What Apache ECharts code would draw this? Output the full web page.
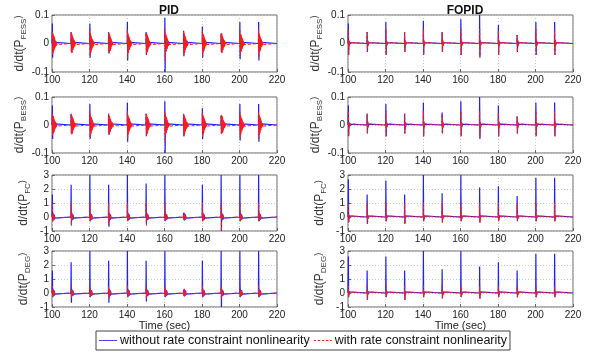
<!DOCTYPE html>
<html>
<head>
<meta charset="utf-8">
<script src="https://cdn.jsdelivr.net/npm/echarts@6/dist/echarts.min.js"></script>
<style>
  html, body { margin: 0; padding: 0; background: #fff; }
  #chart { width: 590px; height: 354px; }
</style>
</head>
<body>
<div id="chart"></div>
<script>
// spike instants (sec)
const spikeTimes = [100, 110, 120, 130, 140, 150, 160, 170, 180, 190, 200, 210];

// PID - FESS
const pidFessBlueUp = [0.07, 0.04, 0.07, 0.04, 0.075, 0.04, 0.09, 0.045, 0.06, 0.035, 0.075, 0.075];
const pidFessBlueDown = [-0.05, -0.03, -0.05, -0.035, -0.06, -0.04, -0.1, -0.045, -0.05, -0.03, -0.055, -0.06];
const pidFessRedUp = [0.04, 0.04, 0.05, 0.04, 0.05, 0.04, 0.05, 0.04, 0.045, 0.035, 0.045, 0.05];
const pidFessRedDown = [-0.04, -0.03, -0.045, -0.03, -0.05, -0.035, -0.06, -0.04, -0.045, -0.03, -0.045, -0.05];
// PID - BESS
const pidBessBlueUp = [0.07, 0.04, 0.075, 0.04, 0.08, 0.04, 0.085, 0.04, 0.06, 0.035, 0.075, 0.075];
const pidBessBlueDown = [-0.05, -0.03, -0.05, -0.035, -0.06, -0.04, -0.1, -0.04, -0.05, -0.03, -0.055, -0.06];
const pidBessRedUp = [0.04, 0.04, 0.05, 0.04, 0.05, 0.04, 0.05, 0.04, 0.045, 0.035, 0.045, 0.05];
const pidBessRedDown = [-0.04, -0.03, -0.045, -0.03, -0.05, -0.035, -0.06, -0.04, -0.045, -0.03, -0.045, -0.05];
// PID - FC
const pidFcBlueUp = [1.6, 2.3, 3, 2.3, 3, 2.4, 3, 0.3, 2.3, 3, 3, 3];
const pidFcBlueDown = [-0.3, -0.6, -0.3, -0.7, -0.3, -0.5, -0.3, -0.2, -0.3, -1, -0.3, -0.3];
const pidFcRedUp = [1, 1, 1, 1, 1, 1, 1, 0.2, 1, 1, 1, 1];
const pidFcRedDown = [-0.3, -0.6, -0.3, -0.6, -0.3, -0.6, -0.3, -0.2, -0.3, -1, -0.3, -0.3];
// PID - DEG
const pidDegBlueUp = [1.6, 2.2, 3, 2.3, 3, 2.3, 3, 0.2, 2.3, 3, 3, 3];
const pidDegBlueDown = [-0.3, -0.7, -0.3, -0.7, -0.3, -0.6, -0.3, -0.2, -0.3, -1, -0.3, -0.3];
const pidDegRedUp = [0.5, 0.5, 0.5, 0.5, 0.5, 0.5, 0.5, 0.2, 0.5, 0.5, 0.5, 0.5];
const pidDegRedDown = [-0.3, -0.4, -0.3, -0.4, -0.3, -0.4, -0.3, -0.2, -0.3, -0.4, -0.3, -0.3];

// FOPID - FESS
const fopidFessBlueUp = [0.07, 0.04, 0.075, 0.04, 0.08, 0.04, 0.085, 0.1, 0.065, 0.03, 0.075, 0.075];
const fopidFessBlueDown = [-0.04, -0.03, -0.04, -0.03, -0.04, -0.03, -0.04, -0.05, -0.04, -0.03, -0.04, -0.04];
const fopidFessRedUp = [0.05, 0.04, 0.05, 0.04, 0.05, 0.04, 0.05, 0.05, 0.045, 0.03, 0.05, 0.05];
const fopidFessRedDown = [-0.04, -0.03, -0.04, -0.03, -0.04, -0.03, -0.04, -0.045, -0.04, -0.03, -0.04, -0.04];
// FOPID - BESS
const fopidBessBlueUp = [0.07, 0.04, 0.075, 0.04, 0.08, 0.045, 0.085, 0.1, 0.07, 0.03, 0.08, 0.08];
const fopidBessBlueDown = [-0.04, -0.03, -0.04, -0.03, -0.04, -0.03, -0.04, -0.05, -0.04, -0.03, -0.04, -0.04];
const fopidBessRedUp = [0.05, 0.04, 0.05, 0.04, 0.05, 0.04, 0.05, 0.05, 0.045, 0.03, 0.05, 0.05];
const fopidBessRedDown = [-0.04, -0.03, -0.04, -0.03, -0.04, -0.03, -0.04, -0.045, -0.04, -0.03, -0.04, -0.04];
// FOPID - FC
const fopidFcBlueUp = [2.7, 1.6, 2.6, 1.6, 3, 1.7, 3, 2.1, 2.2, 1.5, 2.8, 2.8];
const fopidFcBlueDown = [-0.4, -0.5, -0.3, -0.5, -0.3, -0.4, -0.3, -0.4, -0.3, -0.3, -0.3, -0.3];
const fopidFcRedUp = [1, 1, 1, 1, 1, 1, 1, 1, 1, 1, 1, 1];
const fopidFcRedDown = [-0.4, -0.5, -0.3, -0.5, -0.3, -0.4, -0.3, -0.4, -0.3, -0.3, -0.3, -0.3];
// FOPID - DEG
const fopidDegBlueUp = [2.6, 1.6, 2.6, 1.6, 3, 1.7, 3, 1.9, 2.2, 1.6, 2.8, 2.8];
const fopidDegBlueDown = [-0.3, -0.5, -0.3, -0.5, -0.3, -0.4, -0.3, -0.4, -0.3, -0.3, -0.3, -0.3];
const fopidDegRedUp = [0.5, 0.5, 0.5, 0.5, 0.5, 0.5, 0.5, 0.5, 0.5, 0.5, 0.5, 0.5];
const fopidDegRedDown = [-0.3, -0.5, -0.3, -0.5, -0.3, -0.4, -0.3, -0.4, -0.3, -0.3, -0.3, -0.3];

// ringing after each spike, one value every 0.1 s
const pidFessRedTail = [0.035, -0.033, 0.032, -0.03, 0.028, -0.026, 0.024, -0.022, 0.02, -0.018, 0.016, -0.014,
  0.012, -0.011, 0.01, -0.009, 0.008, -0.007, 0.006, -0.005, 0.004, -0.004, 0.003, -0.003, 0.002, -0.002];
const pidFessBlueTail = [0.02, -0.02, 0.018, -0.017, 0.015, -0.014, 0.012, -0.011, 0.01, -0.008, 0.006, -0.005,
  0.004, -0.003, 0.002, -0.002];
const pidFcRedTail = [0.25, -0.22, 0.2, -0.18, 0.15, -0.13, 0.11, -0.1, 0.08, -0.07, 0.05, -0.04, 0.03, -0.02];
const pidFcBlueTail = [0.3, -0.25, 0.22, -0.2, 0.18, -0.15, 0.2, -0.2, 0.1, -0.08, 0.05, -0.04, 0.02];
const fopidFessRedTail = [0.012, -0.01, 0.008, -0.006, 0.004, -0.003, 0.002, -0.001];
const fopidFessBlueTail = [0.01, -0.008, 0.006, -0.005, 0.003, -0.002];
const fopidFcRedTail = [0.15, -0.15, 0.1, -0.1, 0.06, -0.05, 0.03, -0.02];
const fopidFcBlueTail = [0.12, -0.1, 0.08, -0.06, 0.04, -0.03];

function trace(up, down, tail) {
  const pts = [[100, 0]];
  spikeTimes.forEach((t, i) => {
    pts.push([t + 0.1, 0], [t + 0.2, up[i]], [t + 0.35, down[i]]);
    tail.forEach((v, k) => pts.push([t + 0.5 + k * 0.1, v]));
    pts.push([t + 0.5 + tail.length * 0.1, 0]);
  });
  pts.push([220, 0]);
  return pts;
}

const panels = [
  { col: 0, row: 0, sub: 'FESS', small: true, blue: trace(pidFessBlueUp, pidFessBlueDown, pidFessBlueTail), red: trace(pidFessRedUp, pidFessRedDown, pidFessRedTail) },
  { col: 0, row: 1, sub: 'BESS', small: true, blue: trace(pidBessBlueUp, pidBessBlueDown, pidFessBlueTail), red: trace(pidBessRedUp, pidBessRedDown, pidFessRedTail) },
  { col: 0, row: 2, sub: 'FC', small: false, blue: trace(pidFcBlueUp, pidFcBlueDown, pidFcBlueTail), red: trace(pidFcRedUp, pidFcRedDown, pidFcRedTail) },
  { col: 0, row: 3, sub: 'DEG', small: false, blue: trace(pidDegBlueUp, pidDegBlueDown, pidFcBlueTail), red: trace(pidDegRedUp, pidDegRedDown, pidFcRedTail) },
  { col: 1, row: 0, sub: 'FESS', small: true, blue: trace(fopidFessBlueUp, fopidFessBlueDown, fopidFessBlueTail), red: trace(fopidFessRedUp, fopidFessRedDown, fopidFessRedTail) },
  { col: 1, row: 1, sub: 'BESS', small: true, blue: trace(fopidBessBlueUp, fopidBessBlueDown, fopidFessBlueTail), red: trace(fopidBessRedUp, fopidBessRedDown, fopidFessRedTail) },
  { col: 1, row: 2, sub: 'FC', small: false, blue: trace(fopidFcBlueUp, fopidFcBlueDown, fopidFcBlueTail), red: trace(fopidFcRedUp, fopidFcRedDown, fopidFcRedTail) },
  { col: 1, row: 3, sub: 'DEG', small: false, blue: trace(fopidDegBlueUp, fopidDegBlueDown, fopidFcBlueTail), red: trace(fopidDegRedUp, fopidDegRedDown, fopidFcRedTail) }
];

const colLeft = [52, 348];
const rowTop = [15, 97, 175, 251];
const rowHeight = [57, 56, 56, 56];
const font = 'Liberation Sans, Arial, sans-serif';
const BLUE_NAME = 'without rate constraint nonlinearity';
const RED_NAME = 'with rate constraint nonlinearity';

const chart = echarts.init(document.getElementById('chart'));
const grid = [], xAxis = [], yAxis = [], series = [];

panels.forEach((p, i) => {
  grid.push({
    left: colLeft[p.col], top: rowTop[p.row], width: 225, height: rowHeight[p.row],
    show: true, borderColor: '#666', borderWidth: 1, backgroundColor: '#fff'
  });
  xAxis.push({
    type: 'value', gridIndex: i, min: 100, max: 220, interval: 20,
    axisLine: { show: false, onZero: false },
    axisTick: { show: true, inside: true, length: 3, lineStyle: { color: '#666' } },
    axisLabel: { fontSize: 10, color: '#222', margin: 3, fontFamily: font },
    splitLine: { show: true, lineStyle: { color: '#c8c8c8', type: [1, 2] } },
    name: p.row === 3 ? 'Time (sec)' : '',
    nameLocation: 'middle', nameGap: 10,
    nameTextStyle: { fontSize: 11, color: '#222', fontFamily: font }
  });
  yAxis.push({
    type: 'value', gridIndex: i,
    min: p.small ? -0.1 : -1, max: p.small ? 0.1 : 3, interval: p.small ? 0.1 : 1,
    axisLine: { show: false, onZero: false },
    axisTick: { show: true, inside: true, length: 3, lineStyle: { color: '#666' } },
    axisLabel: { fontSize: 10, color: '#222', margin: 3, fontFamily: font },
    splitLine: { show: true, lineStyle: { color: '#c8c8c8', type: [1, 2] } },
    name: '{m|d/dt(P}{s|' + p.sub + '}{r|)}',
    nameLocation: 'middle', nameGap: 20, nameRotate: 90,
    nameTextStyle: {
      fontFamily: font, color: '#333',
      rich: {
        m: { fontSize: 12, lineHeight: 14, verticalAlign: 'top', fontFamily: font, color: '#333' },
        s: { fontSize: 8, lineHeight: 10, padding: [6, 0, 0, 0], verticalAlign: 'bottom', fontFamily: font, color: '#333' },
        r: { fontSize: 9, lineHeight: 10, verticalAlign: 'top', fontFamily: font, color: '#333' }
      }
    }
  });
  series.push({
    name: BLUE_NAME, type: 'line',
    xAxisIndex: i, yAxisIndex: i, data: p.blue, symbol: 'none', animation: false,
    lineStyle: { color: '#1f1fff', width: 1.2 }, itemStyle: { color: '#1f1fff' }
  });
  series.push({
    name: RED_NAME, type: 'line',
    xAxisIndex: i, yAxisIndex: i, data: p.red, symbol: 'none', animation: false,
    lineStyle: { color: '#ff1a1a', width: 1, type: [3, 2] }, itemStyle: { color: '#ff1a1a' }
  });
});

chart.setOption({
  animation: false,
  title: [
    { text: 'PID', left: 164, top: 0, textAlign: 'center', textStyle: { fontSize: 12, fontWeight: 'bold', color: '#111', fontFamily: font } },
    { text: 'FOPID', left: 460, top: 0, textAlign: 'center', textStyle: { fontSize: 12, fontWeight: 'bold', color: '#111', fontFamily: font } }
  ],
  legend: {
    left: 96, top: 331, orient: 'horizontal',
    data: [
      { name: BLUE_NAME, icon: 'path://M0,0H22V1H0Z' },
      { name: RED_NAME, icon: 'path://M0,0H3V1H0Z M5,0H8V1H5Z M10,0H13V1H10Z M15,0H18V1H15Z M20,0H22V1H20Z' }
    ],
    itemWidth: 18, itemHeight: 1.2, itemGap: 4,
    borderColor: '#444', borderWidth: 1, borderRadius: 0, padding: [3, 3],
    textStyle: { fontSize: 12.5, color: '#111', fontFamily: font, padding: [0, 0, 0, -2] }
  },
  grid, xAxis, yAxis, series
});
</script>
</body>
</html>
